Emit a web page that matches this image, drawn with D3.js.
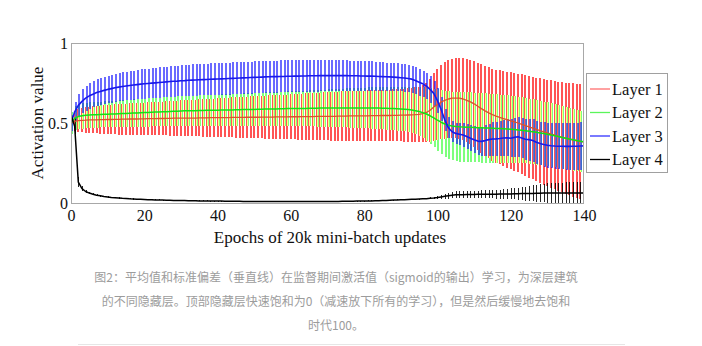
<!DOCTYPE html>
<html>
<head>
<meta charset="utf-8">
<script src="https://cdn.jsdelivr.net/npm/d3@7"></script>
<style>
  html, body { margin: 0; padding: 0; background: #fff; }
  svg { display: block; }
</style>
</head>
<body>
<svg id="chart" width="702" height="346"></svg>
<script>
// Mean and standard deviation of sigmoid activations per hidden layer, one value per epoch (0..140)
const layerNames = ["Layer 1", "Layer 2", "Layer 3", "Layer 4"];

const layer1Mean = [
  0.50,0.51,0.515,0.517,0.518,0.52,0.52,0.52,0.521,0.521,
  0.522,0.522,0.523,0.523,0.524,0.524,0.525,0.525,0.525,0.526,
  0.526,0.527,0.527,0.527,0.528,0.528,0.529,0.529,0.53,0.53,
  0.53,0.53,0.531,0.531,0.531,0.532,0.532,0.532,0.533,0.533,
  0.533,0.534,0.534,0.534,0.535,0.535,0.535,0.535,0.536,0.536,
  0.536,0.536,0.537,0.537,0.537,0.537,0.538,0.538,0.538,0.538,
  0.539,0.539,0.539,0.54,0.54,0.54,0.54,0.541,0.541,0.541,
  0.542,0.542,0.542,0.543,0.543,0.543,0.544,0.544,0.544,0.545,
  0.545,0.545,0.546,0.546,0.546,0.547,0.547,0.547,0.548,0.548,
  0.549,0.549,0.55,0.551,0.552,0.554,0.558,0.566,0.58,0.60,
  0.615,0.63,0.642,0.65,0.655,0.656,0.655,0.65,0.642,0.632,
  0.62,0.605,0.59,0.576,0.563,0.552,0.543,0.535,0.528,0.521,
  0.514,0.507,0.50,0.492,0.484,0.476,0.468,0.46,0.452,0.445,
  0.438,0.431,0.424,0.417,0.411,0.405,0.399,0.394,0.389,0.385,
  0.381
];
const layer1Std = [
  0.05,0.06,0.07,0.075,0.08,0.08,0.085,0.085,0.088,0.09,
  0.09,0.092,0.093,0.095,0.096,0.097,0.098,0.099,0.10,0.10,
  0.101,0.102,0.103,0.104,0.105,0.106,0.107,0.108,0.109,0.11,
  0.111,0.112,0.113,0.114,0.115,0.116,0.117,0.118,0.119,0.12,
  0.121,0.122,0.123,0.124,0.125,0.126,0.127,0.128,0.129,0.13,
  0.131,0.132,0.133,0.134,0.135,0.136,0.137,0.138,0.139,0.14,
  0.141,0.142,0.143,0.144,0.145,0.146,0.147,0.148,0.149,0.15,
  0.151,0.152,0.152,0.153,0.154,0.155,0.155,0.156,0.157,0.158,
  0.158,0.159,0.16,0.16,0.161,0.161,0.162,0.162,0.163,0.163,
  0.164,0.165,0.166,0.168,0.17,0.173,0.178,0.186,0.197,0.21,
  0.222,0.232,0.24,0.245,0.248,0.25,0.253,0.256,0.26,0.264,
  0.268,0.272,0.276,0.28,0.284,0.288,0.291,0.294,0.297,0.30,
  0.303,0.306,0.309,0.312,0.315,0.318,0.321,0.324,0.327,0.33,
  0.333,0.336,0.339,0.342,0.345,0.348,0.351,0.354,0.357,0.36,
  0.362
];
const layer2Mean = [
  0.50,0.53,0.54,0.545,0.548,0.55,0.551,0.552,0.553,0.554,
  0.555,0.556,0.557,0.558,0.559,0.56,0.561,0.562,0.563,0.564,
  0.565,0.566,0.567,0.568,0.569,0.57,0.571,0.572,0.573,0.574,
  0.575,0.576,0.576,0.577,0.577,0.578,0.578,0.579,0.579,0.58,
  0.58,0.581,0.581,0.582,0.582,0.583,0.583,0.584,0.584,0.585,
  0.585,0.586,0.586,0.587,0.587,0.588,0.588,0.589,0.589,0.59,
  0.59,0.59,0.591,0.591,0.591,0.592,0.592,0.592,0.593,0.593,
  0.593,0.593,0.594,0.594,0.594,0.594,0.594,0.594,0.594,0.594,
  0.594,0.594,0.593,0.593,0.593,0.592,0.592,0.591,0.59,0.589,
  0.588,0.586,0.584,0.581,0.577,0.572,0.565,0.556,0.545,0.532,
  0.518,0.505,0.494,0.486,0.481,0.478,0.476,0.475,0.474,0.473,
  0.472,0.471,0.47,0.469,0.468,0.467,0.466,0.465,0.464,0.463,
  0.461,0.459,0.457,0.455,0.452,0.449,0.446,0.442,0.438,0.434,
  0.43,0.425,0.42,0.415,0.41,0.405,0.40,0.395,0.39,0.386,
  0.382
];
const layer2Std = [
  0.07,0.075,0.078,0.08,0.08,0.08,0.08,0.081,0.081,0.082,
  0.082,0.083,0.083,0.084,0.084,0.085,0.085,0.086,0.086,0.087,
  0.087,0.088,0.088,0.089,0.089,0.09,0.09,0.091,0.091,0.092,
  0.092,0.093,0.093,0.094,0.094,0.095,0.095,0.096,0.096,0.097,
  0.097,0.098,0.098,0.099,0.099,0.10,0.10,0.101,0.101,0.102,
  0.102,0.103,0.103,0.104,0.104,0.105,0.105,0.106,0.106,0.107,
  0.107,0.108,0.109,0.11,0.111,0.112,0.113,0.114,0.115,0.116,
  0.117,0.118,0.119,0.12,0.121,0.122,0.123,0.124,0.125,0.126,
  0.127,0.128,0.129,0.13,0.131,0.132,0.133,0.134,0.135,0.136,
  0.137,0.139,0.141,0.144,0.148,0.153,0.159,0.166,0.174,0.183,
  0.192,0.20,0.206,0.211,0.214,0.216,0.217,0.218,0.218,0.218,
  0.218,0.217,0.217,0.216,0.215,0.214,0.213,0.212,0.211,0.21,
  0.209,0.208,0.207,0.206,0.205,0.204,0.203,0.202,0.201,0.20,
  0.199,0.198,0.197,0.196,0.195,0.194,0.193,0.192,0.191,0.19,
  0.19
];
const layer3Mean = [
  0.50,0.57,0.61,0.635,0.655,0.67,0.68,0.69,0.697,0.704,
  0.71,0.715,0.72,0.724,0.728,0.731,0.734,0.737,0.74,0.743,
  0.745,0.747,0.749,0.751,0.753,0.755,0.757,0.759,0.761,0.762,
  0.764,0.765,0.767,0.768,0.769,0.77,0.771,0.772,0.773,0.774,
  0.775,0.776,0.777,0.778,0.779,0.78,0.781,0.782,0.783,0.784,
  0.785,0.786,0.787,0.788,0.789,0.79,0.79,0.791,0.791,0.792,
  0.792,0.793,0.793,0.794,0.794,0.795,0.795,0.795,0.796,0.796,
  0.796,0.796,0.796,0.796,0.796,0.796,0.795,0.795,0.795,0.794,
  0.794,0.793,0.793,0.792,0.791,0.79,0.789,0.788,0.787,0.785,
  0.783,0.781,0.778,0.774,0.765,0.755,0.745,0.73,0.71,0.685,
  0.64,0.585,0.52,0.47,0.445,0.435,0.43,0.425,0.415,0.405,
  0.395,0.387,0.385,0.39,0.396,0.40,0.401,0.403,0.406,0.408,
  0.405,0.41,0.414,0.406,0.398,0.396,0.39,0.38,0.372,0.366,
  0.361,0.358,0.356,0.355,0.355,0.354,0.354,0.355,0.355,0.356,
  0.357
];
const layer3Std = [
  0.05,0.06,0.07,0.075,0.078,0.08,0.082,0.083,0.084,0.085,
  0.086,0.087,0.088,0.089,0.09,0.09,0.091,0.091,0.092,0.092,
  0.093,0.093,0.094,0.094,0.095,0.095,0.095,0.096,0.096,0.096,
  0.097,0.097,0.097,0.098,0.098,0.098,0.098,0.099,0.099,0.099,
  0.099,0.10,0.10,0.10,0.10,0.10,0.10,0.10,0.10,0.10,
  0.10,0.10,0.10,0.10,0.10,0.10,0.10,0.10,0.10,0.10,
  0.10,0.10,0.10,0.10,0.10,0.10,0.10,0.099,0.099,0.099,
  0.098,0.098,0.097,0.097,0.096,0.096,0.095,0.095,0.094,0.094,
  0.093,0.092,0.092,0.091,0.09,0.09,0.089,0.088,0.088,0.087,
  0.086,0.086,0.085,0.085,0.084,0.084,0.083,0.083,0.082,0.08,
  0.078,0.075,0.07,0.066,0.066,0.068,0.07,0.073,0.076,0.08,
  0.084,0.088,0.092,0.096,0.10,0.104,0.107,0.11,0.113,0.116,
  0.119,0.122,0.125,0.127,0.129,0.131,0.133,0.135,0.137,0.139,
  0.14,0.141,0.142,0.143,0.144,0.145,0.146,0.147,0.148,0.149,
  0.15
];
const layer4Mean = [
  0.55,0.48,0.13,0.09,0.072,0.062,0.055,0.049,0.045,0.041,
  0.038,0.035,0.033,0.031,0.029,0.028,0.026,0.025,0.024,0.023,
  0.022,0.021,0.02,0.019,0.019,0.018,0.017,0.017,0.016,0.016,
  0.015,0.015,0.014,0.014,0.014,0.013,0.013,0.013,0.012,0.012,
  0.012,0.012,0.011,0.011,0.011,0.011,0.011,0.01,0.01,0.01,
  0.01,0.01,0.01,0.01,0.01,0.01,0.01,0.01,0.01,0.01,
  0.01,0.01,0.01,0.01,0.01,0.01,0.01,0.01,0.01,0.01,
  0.01,0.01,0.01,0.01,0.011,0.011,0.011,0.011,0.012,0.012,
  0.012,0.013,0.013,0.014,0.014,0.015,0.016,0.017,0.018,0.019,
  0.02,0.021,0.022,0.023,0.024,0.025,0.026,0.027,0.029,0.031,
  0.034,0.038,0.042,0.046,0.049,0.051,0.052,0.052,0.053,0.053,
  0.053,0.054,0.054,0.054,0.055,0.055,0.055,0.056,0.056,0.057,
  0.057,0.058,0.058,0.059,0.059,0.06,0.06,0.061,0.061,0.062,
  0.062,0.062,0.063,0.063,0.063,0.063,0.063,0.063,0.063,0.063,
  0.063
];
const layer4Std = [
  0.06,0.05,0.03,0.015,0.01,0.008,0.006,0.005,0.005,0.004,
  0.004,0.004,0.004,0.004,0.004,0.004,0.004,0.004,0.004,0.004,
  0.003,0.003,0.003,0.003,0.003,0.003,0.003,0.003,0.003,0.003,
  0.003,0.003,0.003,0.003,0.003,0.003,0.003,0.003,0.003,0.003,
  0.003,0.003,0.003,0.003,0.003,0.003,0.003,0.003,0.003,0.003,
  0.003,0.003,0.003,0.003,0.003,0.003,0.003,0.003,0.003,0.003,
  0.003,0.003,0.003,0.003,0.003,0.003,0.003,0.003,0.003,0.003,
  0.003,0.003,0.003,0.003,0.003,0.003,0.003,0.003,0.003,0.003,
  0.003,0.003,0.003,0.003,0.003,0.003,0.003,0.003,0.003,0.003,
  0.003,0.003,0.003,0.003,0.003,0.003,0.004,0.005,0.006,0.008,
  0.01,0.012,0.015,0.018,0.02,0.021,0.022,0.022,0.023,0.023,
  0.024,0.024,0.025,0.025,0.026,0.026,0.027,0.028,0.03,0.032,
  0.034,0.036,0.038,0.041,0.044,0.047,0.05,0.053,0.056,0.058,
  0.06,0.062,0.063,0.064,0.065,0.066,0.067,0.068,0.069,0.07,
  0.07
];

const xTicks = [0, 20, 40, 60, 80, 100, 120, 140];
const yTicks = [0, 0.5, 1];
const xTitle = "Epochs of 20k mini-batch updates";
const yTitle = "Activation value";
const captionLines = [
  "图2：平均值和标准偏差（垂直线）在监督期间激活值（sigmoid的输出）学习，为深层建筑",
  "的不同隐藏层。顶部隐藏层快速饱和为0（减速放下所有的学习），但是然后缓慢地去饱和",
  "时代100。"
];

const svg = d3.select("#chart");
const W = 702, H = 346;
const plot = { left: 71, right: 584, top: 43, bottom: 203 };
const serif = "'Liberation Serif', 'DejaVu Serif', serif";

const x = d3.scaleLinear().domain([0, 140]).range([plot.left, plot.right]);
const y = d3.scaleLinear().domain([0, 1]).range([plot.bottom, plot.top]);

svg.append("rect").attr("width", W).attr("height", H).attr("fill", "#fff");

const defs = svg.append("defs");
defs.append("clipPath").attr("id", "plotClip")
  .append("rect")
  .attr("x", plot.left).attr("y", plot.top)
  .attr("width", plot.right - plot.left).attr("height", plot.bottom - plot.top);

// Red and green bars mix as light on a dark ground; that ground is then turned white.
const steps = 50;
const table = [1].concat(d3.range(1, steps + 1).map(k => (k / steps).toFixed(3))).join(" ");
const flt = defs.append("filter").attr("id", "groundToWhite")
  .attr("filterUnits", "userSpaceOnUse")
  .attr("x", plot.left).attr("y", plot.top)
  .attr("width", plot.right - plot.left).attr("height", plot.bottom - plot.top)
  .attr("color-interpolation-filters", "sRGB");
const ct = flt.append("feComponentTransfer");
["feFuncR", "feFuncG", "feFuncB"].forEach(f => ct.append(f).attr("type", "table").attr("tableValues", table));

// vertical dotted grid
svg.append("g").selectAll("line")
  .data(xTicks.filter(t => t > 0 && t < 140))
  .join("line")
  .attr("x1", d => Math.round(x(d)) + 0.5).attr("x2", d => Math.round(x(d)) + 0.5)
  .attr("y1", plot.top).attr("y2", plot.bottom)
  .attr("stroke", "#c8c8c8").attr("stroke-width", 1)
  .attr("stroke-dasharray", "1,2");

const epochs = layer1Mean.map((_, i) => i);
const px = i => Math.round(x(i));

const mixed = svg.append("g").attr("clip-path", "url(#plotClip)")
  .append("g").attr("filter", "url(#groundToWhite)");
mixed.append("rect")
  .attr("x", plot.left).attr("y", plot.top)
  .attr("width", plot.right - plot.left).attr("height", plot.bottom - plot.top)
  .attr("fill", "#000");

function bars(g, mean, std, color, dx, w, blend) {
  return g.append("g").selectAll("rect")
    .data(epochs)
    .join("rect")
    .attr("x", i => px(i) + dx)
    .attr("width", w)
    .attr("y", i => y(mean[i] + std[i]))
    .attr("height", i => Math.max(1, y(mean[i] - std[i]) - y(mean[i] + std[i])))
    .attr("fill", color)
    .attr("shape-rendering", "crispEdges")
    .style("mix-blend-mode", blend || null);
}

bars(mixed, layer1Mean, layer1Std, "rgb(255,85,85)", -1, 2, "lighten");
bars(mixed, layer2Mean, layer2Std, "rgb(125,255,125)", 0, 2, "lighten");

const over = svg.append("g").attr("clip-path", "url(#plotClip)");
bars(over, layer3Mean, layer3Std, "rgba(15,15,255,0.62)", 0, 2);
bars(over, layer4Mean, layer4Std, "rgba(0,0,0,0.85)", 0, 1);

// mean curves
const meanLine = arr => d3.line().x(i => x(i)).y(i => y(arr[i]))(epochs);
const lineStyles = [
  [layer1Mean, "rgb(215,85,45)", 1.3],
  [layer2Mean, "rgb(20,225,20)", 1.5],
  [layer3Mean, "rgb(25,25,235)", 1.6],
  [layer4Mean, "#000", 1.5]
];
const lines = over.append("g");
lineStyles.forEach(([arr, c, w]) => {
  lines.append("path").attr("d", meanLine(arr))
    .attr("fill", "none").attr("stroke", c).attr("stroke-width", w)
    .attr("stroke-linejoin", "round");
});

// frame
svg.append("rect")
  .attr("x", plot.left + 0.5).attr("y", plot.top + 0.5)
  .attr("width", plot.right - plot.left - 1).attr("height", plot.bottom - plot.top)
  .attr("fill", "none").attr("stroke", "#a8a8a8").attr("stroke-width", 1);

// axes
const xAxis = svg.append("g")
  .attr("transform", `translate(0,${plot.bottom})`)
  .call(d3.axisBottom(x).tickValues(xTicks).tickSize(0).tickPadding(7).tickFormat(d3.format("d")));
xAxis.select(".domain").remove();
xAxis.selectAll("text").attr("font-family", serif).attr("font-size", 16).attr("fill", "#111");

const yAxis = svg.append("g")
  .attr("transform", `translate(${plot.left},0)`)
  .call(d3.axisLeft(y).tickValues(yTicks).tickSize(0).tickPadding(3).tickFormat(d => d === 0.5 ? "0.5" : d3.format("d")(d)));
yAxis.select(".domain").remove();
yAxis.selectAll("text").attr("font-family", serif).attr("font-size", 16).attr("fill", "#111");

svg.append("text")
  .attr("x", 330).attr("y", 243)
  .attr("text-anchor", "middle")
  .attr("font-family", serif).attr("font-size", 17).attr("fill", "#111")
  .text(xTitle);

svg.append("text")
  .attr("transform", "translate(43,123) rotate(-90)")
  .attr("text-anchor", "middle")
  .attr("font-family", serif).attr("font-size", 17).attr("fill", "#111")
  .text(yTitle);

// legend
const legendColors = ["rgb(255,110,110)", "rgb(90,245,90)", "rgb(50,50,255)", "#000"];
const lg = svg.append("g");
lg.append("rect").attr("x", 586.5).attr("y", 73.5).attr("width", 81).attr("height", 99)
  .attr("fill", "#fff").attr("stroke", "#a0a0a0").attr("stroke-width", 1);
layerNames.forEach((name, k) => {
  const cy = 89 + k * 23.5;
  lg.append("line").attr("x1", 590).attr("x2", 610).attr("y1", cy).attr("y2", cy)
    .attr("stroke", legendColors[k]).attr("stroke-width", 1.3);
  lg.append("text").attr("x", 612).attr("y", cy).attr("dy", "0.35em")
    .attr("font-family", serif).attr("font-size", 16.5).attr("fill", "#111")
    .text(name);
});

// caption
const cap = svg.append("g");
captionLines.forEach((t, k) => {
  cap.append("text")
    .attr("x", 336).attr("y", 278 + k * 24).attr("dy", "0.35em")
    .attr("text-anchor", "middle")
    .attr("font-family", "'Noto Sans CJK SC', 'Noto Sans', sans-serif")
    .attr("font-size", 12).attr("fill", "#9c9c9c")
    .text(t);
});
svg.append("line").attr("x1", 78).attr("x2", 625).attr("y1", 344.5).attr("y2", 344.5)
  .attr("stroke", "#e6e6e6").attr("stroke-width", 1);
</script>
</body>
</html>
